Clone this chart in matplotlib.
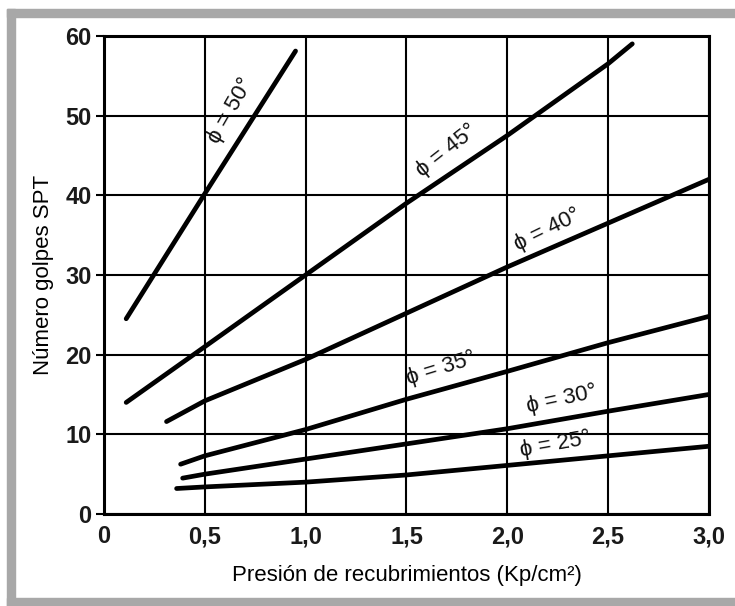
import matplotlib.pyplot as plt
from matplotlib.patches import Rectangle

plt.rcParams['font.family'] = ['Liberation Sans', 'DejaVu Sans']

# Curves: overburden pressure (Kp/cm2) vs SPT blow count
phi50_x = [0.11, 0.5, 0.95]
phi50_y = [24.5, 40.2, 58.1]
phi45_x = [0.11, 0.5, 1.0, 1.5, 2.0, 2.5, 2.62]
phi45_y = [14.0, 21.0, 30.0, 39.0, 47.5, 56.5, 59.0]
phi40_x = [0.31, 0.5, 1.0, 1.5, 2.0, 2.5, 3.0]
phi40_y = [11.6, 14.2, 19.4, 25.2, 31.0, 36.5, 42.0]
phi35_x = [0.38, 0.5, 1.0, 1.5, 2.0, 2.5, 3.0]
phi35_y = [6.25, 7.3, 10.6, 14.4, 17.9, 21.5, 24.8]
phi30_x = [0.39, 0.5, 1.0, 1.5, 2.0, 2.5, 3.0]
phi30_y = [4.5, 5.0, 6.9, 8.8, 10.7, 12.9, 15.0]
phi25_x = [0.36, 0.5, 1.0, 1.5, 2.0, 2.5, 3.0]
phi25_y = [3.2, 3.4, 4.0, 4.9, 6.1, 7.3, 8.5]

curve_labels = ['ϕ = 50°', 'ϕ = 45°', 'ϕ = 40°', 'ϕ = 35°', 'ϕ = 30°', 'ϕ = 25°']

x_ticks = [0, 0.5, 1.0, 1.5, 2.0, 2.5, 3.0]
x_ticklabels = ['0', '0,5', '1,0', '1,5', '2,0', '2,5', '3,0']
y_ticks = [0, 10, 20, 30, 40, 50, 60]

fig = plt.figure(figsize=(7.35, 6.06), dpi=100)
ax = fig.add_axes([0.1415, 0.1518, 0.823, 0.789])

# grey frame around the picture (open on the right)
grey = '#a8a8a8'
fig.add_artist(Rectangle((7 / 735, 1 - 17 / 606), 1.0, 8 / 606, transform=fig.transFigure, color=grey))
fig.add_artist(Rectangle((7 / 735, 0.0), 8 / 735, 1 - 9 / 606, transform=fig.transFigure, color=grey))
fig.add_artist(Rectangle((7 / 735, 0.0), 1.0, 8 / 606, transform=fig.transFigure, color=grey))

curves = [(phi50_x, phi50_y), (phi45_x, phi45_y), (phi40_x, phi40_y),
          (phi35_x, phi35_y), (phi30_x, phi30_y), (phi25_x, phi25_y)]
for xs, ys in curves:
    ax.plot(xs, ys, color='black', lw=3.4, solid_capstyle='round', zorder=3)

# curve labels, placed along each line
label_pos = [(0.63, 50.6, 60), (1.70, 45.6, 38), (2.2, 35.6, 26),
             (1.67, 18.3, 17), (2.27, 14.4, 12), (2.24, 8.7, 10)]
for txt, (lx, ly, rot) in zip(curve_labels, label_pos):
    ax.text(lx, ly, txt, rotation=rot, rotation_mode='anchor', ha='center', va='center',
            fontsize=16, color='#111111', zorder=4)

ax.set_xlim(0, 3.0)
ax.set_ylim(0, 60)
ax.set_xticks(x_ticks)
ax.set_xticklabels(x_ticklabels)
ax.set_yticks(y_ticks)
ax.grid(True, color='black', lw=1.5)
ax.set_axisbelow(True)
for s in ax.spines.values():
    s.set_linewidth(2.2)
ax.tick_params(axis='y', length=6, width=1.5, labelsize=17, pad=3)
ax.tick_params(axis='x', length=0, labelsize=17, pad=8)
for lab in ax.get_xticklabels() + ax.get_yticklabels():
    lab.set_fontweight('bold')
    lab.set_color('#1a1a1a')

ax.set_xlabel('Presión de recubrimientos (Kp/cm²)', fontsize=16, labelpad=12)
ax.set_ylabel('Número golpes SPT', fontsize=16, labelpad=8)

fig.savefig('out.png', dpi=100, facecolor='white')
